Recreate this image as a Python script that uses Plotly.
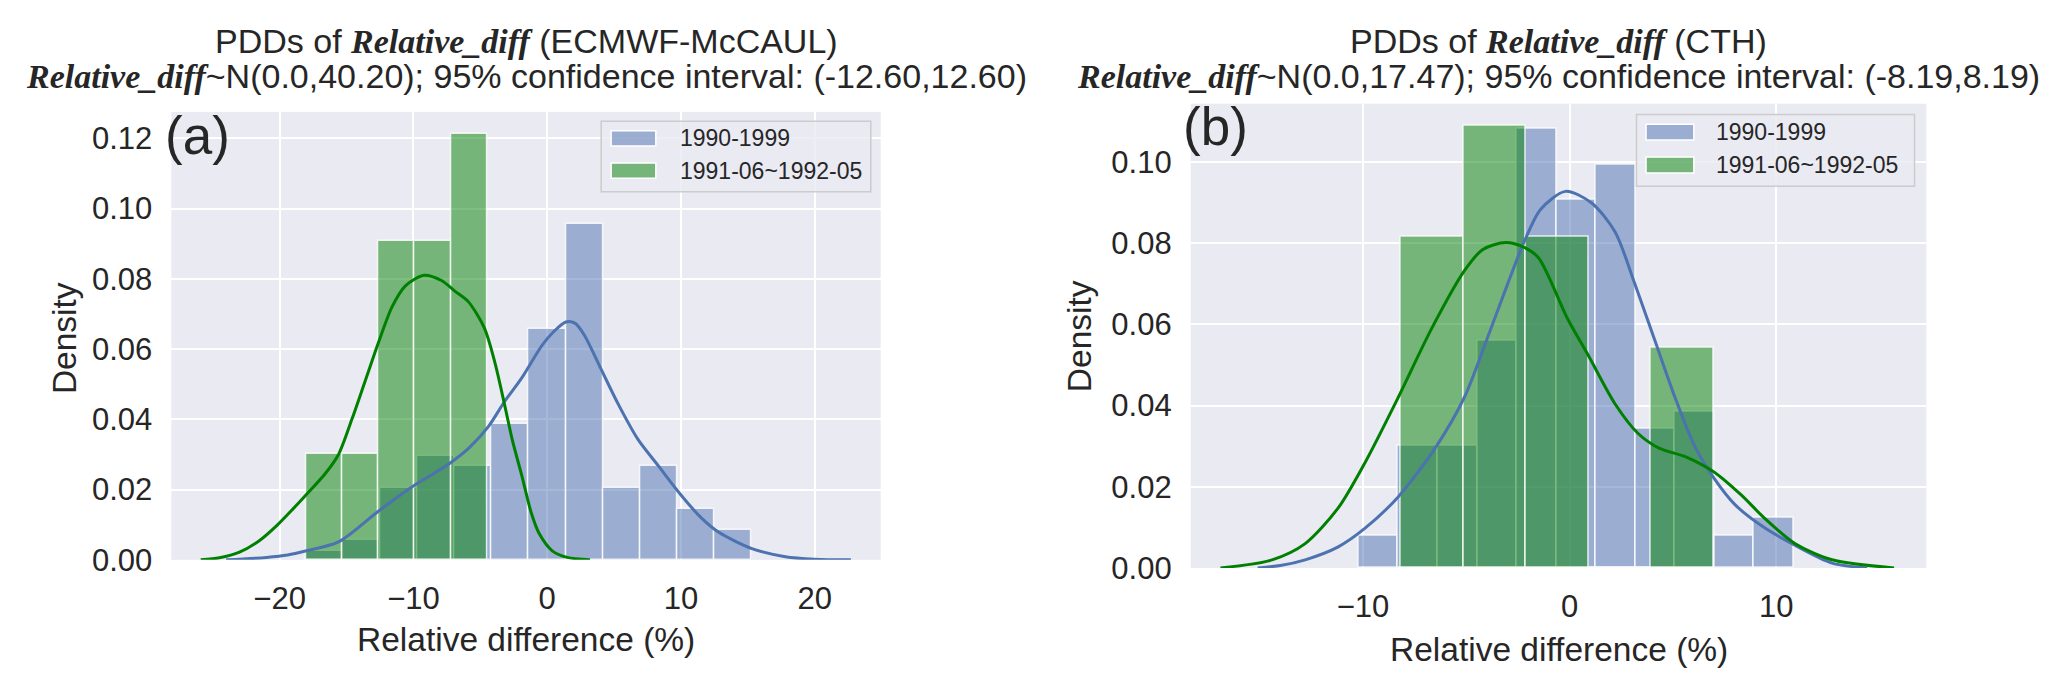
import plotly.graph_objects as go

# --- panel (a): ECMWF-McCAUL ---
a_blue_edges = [-18.07, -15.29, -12.51, -9.73, -6.95, -4.17, -1.39, 1.39, 4.17, 6.95, 9.73, 12.51, 15.29]
a_blue_dens = [0.0026, 0.0056, 0.0206, 0.0295, 0.0266, 0.0387, 0.0656, 0.0957, 0.0206, 0.0267, 0.0146, 0.0086]
a_green_edges = [-18.04, -15.33, -12.62, -9.91, -7.20, -4.50]
a_green_dens = [0.0302, 0.0302, 0.0909, 0.0909, 0.1213]

a_blue_kde_x = [-24.0, -21.0, -19.4, -18.0, -15.6, -12.6, -9.9, -8.5, -7.2, -5.8, -4.4, -3.2, -1.9, -0.4, 0.5,
                1.4, 2.1, 2.8, 4.0, 5.3, 6.8, 8.3, 9.8, 11.5, 12.8, 15.3, 17.8, 20.0, 22.7]
a_blue_kde_y = [0.0, 0.0007, 0.0014, 0.0026, 0.0051, 0.0139, 0.0213, 0.0245, 0.0277, 0.032, 0.0379, 0.045, 0.0518,
                0.061, 0.065, 0.0677, 0.0673, 0.0638, 0.0545, 0.0444, 0.0342, 0.0268, 0.0194, 0.012, 0.0079, 0.0032,
                0.0009, 0.0002, 0.0]
a_green_kde_x = [-25.9, -24.5, -23.0, -21.5, -20.2, -19.0, -18.0, -16.6, -15.6, -14.6, -13.6, -12.6, -11.6, -10.6,
                 -9.2, -7.9, -6.9, -5.9, -4.7, -3.9, -3.2, -2.6, -1.9, -1.2, -0.6, 0.4, 1.5, 3.2]
a_green_kde_y = [0.0, 0.0006, 0.0022, 0.0055, 0.0098, 0.0145, 0.0186, 0.0245, 0.030, 0.040, 0.051, 0.062, 0.072,
                 0.078, 0.081, 0.0795, 0.0765, 0.0735, 0.066, 0.056, 0.0444, 0.034, 0.024, 0.0135, 0.0075, 0.0025,
                 0.0007, 0.0]

# --- panel (b): CTH ---
b_blue_edges = [-10.21, -8.30, -6.38, -4.47, -2.55, -0.64, 1.27, 3.19, 5.10, 7.02, 8.93, 10.85]
b_blue_dens = [0.0080, 0.0300, 0.0300, 0.0560, 0.1082, 0.0907, 0.0994, 0.0342, 0.0386, 0.0080, 0.0124]
b_green_edges = [-8.18, -5.15, -2.12, 0.91, 3.94, 6.97]
b_green_dens = [0.0816, 0.1090, 0.0816, 0.0, 0.0542]

b_blue_kde_x = [-15.1, -14.0, -12.8, -11.2, -9.9, -8.3, -6.5, -5.1, -4.0, -3.0, -2.2, -1.4, -0.2, 1.05, 2.2, 3.1,
                4.1, 5.1, 6.05, 7.0, 8.0, 9.4, 10.9, 12.7, 14.4]
b_blue_kde_y = [0.0, 0.0006, 0.002, 0.0052, 0.0098, 0.0175, 0.0296, 0.042, 0.0564, 0.070, 0.0804, 0.0884, 0.0928,
                0.090, 0.0828, 0.0708, 0.0564, 0.042, 0.030, 0.022, 0.0156, 0.010, 0.0056, 0.0012, 0.0]
b_green_kde_x = [-16.9, -14.4, -12.8, -11.2, -9.9, -8.3, -6.7, -5.1, -4.2, -3.1, -2.2, -1.5, -0.1, 0.9, 2.2, 3.3,
                 4.3, 5.7, 7.0, 8.3, 9.4, 10.9, 12.7, 15.7]
b_green_kde_y = [0.0, 0.002, 0.006, 0.0148, 0.026, 0.042, 0.0588, 0.0732, 0.0785, 0.0802, 0.079, 0.0764, 0.0614,
                 0.0524, 0.0404, 0.0332, 0.0296, 0.0272, 0.0236, 0.018, 0.0124, 0.006, 0.002, 0.0]

series_names = ['1990-1999', '1991-06~1992-05']
a_ticks = [-20, -10, 0, 10, 20]
b_ticks = [-10, 0, 10]
y_ticks_a = [0.0, 0.02, 0.04, 0.06, 0.08, 0.10, 0.12]
y_ticks_b = [0.0, 0.02, 0.04, 0.06, 0.08, 0.10]

BLUE = '#4C72B0'
GREEN = '#008000'
BLUE_BAR = 'rgba(76,114,176,0.5)'
GREEN_BAR = 'rgba(0,128,0,0.5)'
BG = '#EAEAF2'
TXT = '#262626'
SANS = 'Liberation Sans, Arial, sans-serif'


def bars(edges, dens, color, xa, ya):
    centers = [(edges[i] + edges[i + 1]) / 2 for i in range(len(dens))]
    widths = [edges[i + 1] - edges[i] for i in range(len(dens))]
    return go.Bar(x=centers, y=dens, width=widths, xaxis=xa, yaxis=ya, showlegend=False,
                  marker=dict(color=color, line=dict(color='rgba(255,255,255,0.8)', width=1.5)))


def kde(x, y, color, xa, ya):
    return go.Scatter(x=x, y=y, mode='lines', xaxis=xa, yaxis=ya, showlegend=False,
                      line=dict(color=color, width=3, shape='spline', smoothing=0.8))


fig = go.Figure()
# patches first, then lines (matplotlib zorder)
fig.add_trace(bars(a_blue_edges, a_blue_dens, BLUE_BAR, 'x', 'y'))
fig.add_trace(bars(a_green_edges, a_green_dens, GREEN_BAR, 'x', 'y'))
fig.add_trace(bars(b_blue_edges, b_blue_dens, BLUE_BAR, 'x2', 'y2'))
fig.add_trace(bars(b_green_edges, b_green_dens, GREEN_BAR, 'x2', 'y2'))
fig.add_trace(kde(a_blue_kde_x, a_blue_kde_y, BLUE, 'x', 'y'))
fig.add_trace(kde(a_green_kde_x, a_green_kde_y, GREEN, 'x', 'y'))
fig.add_trace(kde(b_blue_kde_x, b_blue_kde_y, BLUE, 'x2', 'y2'))
fig.add_trace(kde(b_green_kde_x, b_green_kde_y, GREEN, 'x2', 'y2'))

axis_common = dict(showgrid=True, gridcolor='white', gridwidth=2, zeroline=False, showline=False,
                   ticks='', tickfont=dict(family=SANS, size=31, color=TXT))

W, H = 2067, 687

fig.update_layout(
    width=W, height=H,
    margin=dict(l=0, r=0, t=0, b=0),
    paper_bgcolor='white', plot_bgcolor=BG,
    barmode='overlay', bargap=0,
    xaxis=dict(domain=[163.3 / W, 872.7 / W], range=[-28.1, 24.93], tickvals=a_ticks,
               ticklabelstandoff=17, anchor='y', **axis_common),
    yaxis=dict(domain=[(H - 566.7) / H, (H - 106.7) / H], range=[0, 0.1275], tickvals=y_ticks_a,
               tickformat='.2f', ticklabelstandoff=18, anchor='x', **axis_common),
    xaxis2=dict(domain=[1182.7 / W, 1918.3 / W], range=[-18.34, 17.26], tickvals=b_ticks,
                ticklabelstandoff=17, anchor='y2', **axis_common),
    yaxis2=dict(domain=[(H - 575) / H, (H - 98.3) / H], range=[0, 0.1144], tickvals=y_ticks_b,
                tickformat='.2f', ticklabelstandoff=18, anchor='x2', **axis_common),
)

rd = "<span style='font-family:Liberation Serif, Times New Roman, serif'><b><i>Relative_diff</i></b></span>"
titles = [
    (518 / W, f"PDDs of {rd} (ECMWF-McCAUL)",
     f"{rd}~N(0.0,40.20); 95% confidence interval: (-12.60,12.60)"),
    (1550.5 / W, f"PDDs of {rd} (CTH)",
     f"{rd}~N(0.0,17.47); 95% confidence interval: (-8.19,8.19)"),
]
ann = []
for xc, l1, l2 in titles:
    ann.append(dict(x=xc, y=(H - 34) / H, xref='paper', yref='paper', text=l1, showarrow=False,
                    xanchor='center', yanchor='middle', font=dict(family=SANS, size=34, color=TXT)))
    ann.append(dict(x=xc, y=(H - 70) / H, xref='paper', yref='paper', text=l2, showarrow=False,
                    xanchor='center', yanchor='middle', font=dict(family=SANS, size=34, color=TXT)))

# axis titles
for xc, yc in [(518 / W, (H - 648) / H), (1550.5 / W, (H - 659) / H)]:
    ann.append(dict(x=xc, y=yc, xref='paper', yref='paper', text='Relative difference (%)', showarrow=False,
                    xanchor='center', yanchor='middle', font=dict(family=SANS, size=33.5, color=TXT)))
for xc, yc in [(56 / W, (H - 339) / H), (1071 / W, (H - 337) / H)]:
    ann.append(dict(x=xc, y=yc, xref='paper', yref='paper', text='Density', showarrow=False, textangle=-90,
                    xanchor='center', yanchor='middle', font=dict(family=SANS, size=33.5, color=TXT)))

# panel letters
ann.append(dict(x=155 / W, y=(H - 131) / H, xref='paper', yref='paper', text='(a)', showarrow=False,
                xanchor='left', yanchor='middle', font=dict(family=SANS, size=53, color=TXT)))
ann.append(dict(x=1173 / W, y=(H - 122) / H, xref='paper', yref='paper', text='(b)', showarrow=False,
                xanchor='left', yanchor='middle', font=dict(family=SANS, size=53, color=TXT)))

# legends drawn in each axes' domain coordinates
shapes = []
legend_pos = [
    ('x', 'y', 0.606, 0.986, 0.822, 0.979, 0.620, 0.683, [0.941, 0.869], 0.714),
    ('x2', 'y2', 0.606, 0.984, 0.822, 0.977, 0.619, 0.684, [0.939, 0.868], 0.712),
]
for xa, ya, bx0, bx1, by0, by1, px0, px1, rows, tx in legend_pos:
    xr, yr = xa + ' domain', ya + ' domain'
    shapes.append(dict(type='rect', xref=xr, yref=yr, x0=bx0, x1=bx1, y0=by0, y1=by1, layer='above',
                       fillcolor='rgba(234,234,242,0.8)', line=dict(color='#cccccc', width=1.5)))
    for name, col, ry in zip(series_names, [BLUE_BAR, GREEN_BAR], rows):
        shapes.append(dict(type='rect', xref=xr, yref=yr, x0=px0, x1=px1, y0=ry - 0.017, y1=ry + 0.017,
                           layer='above', fillcolor=col, line=dict(color='white', width=1.5)))
        ann.append(dict(x=tx, y=ry, xref=xr, yref=yr, text=name, showarrow=False, xanchor='left',
                        yanchor='middle', font=dict(family=SANS, size=23, color=TXT)))

fig.update_layout(annotations=ann, shapes=shapes)
fig.write_html("out.html")
